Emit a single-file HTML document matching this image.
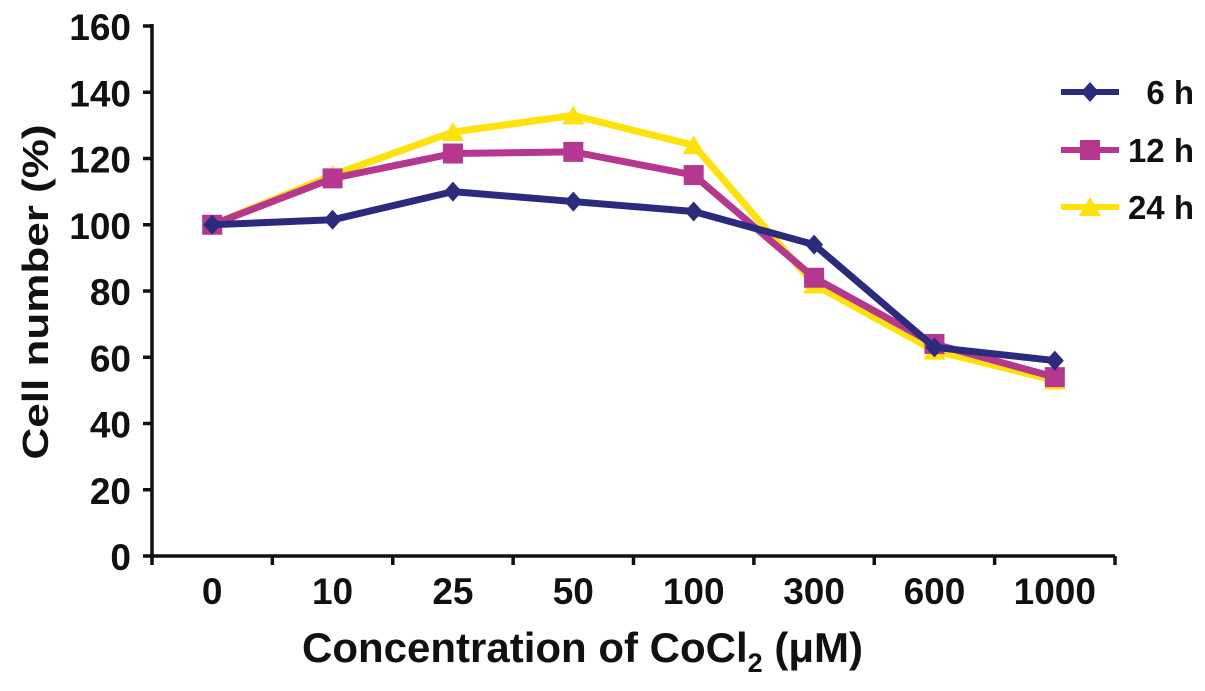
<!DOCTYPE html>
<html><head><meta charset="utf-8"><style>
body{margin:0;background:#fff;}
svg{display:block;font-family:"Liberation Sans",Arial,sans-serif;font-weight:bold;}
</style></head><body>
<svg id="chart" width="1205" height="691" viewBox="0 0 1205 691"></svg>
<script>
const categories=["0","10","25","50","100","300","600","1000"];
const s6h=[100,101.5,110,107,104,94,63,59];
const s12h=[100,114,121.5,122,115,84,64,54];
const s24h=[100,115,128,133,124,82,62,53];
const yTicks=[0,20,40,60,80,100,120,140,160];
const seriesNames=["6 h","12 h","24 h"];

const NS="http://www.w3.org/2000/svg";
const svg=document.getElementById('chart');
const X0=152,X1=1115,Y0=556,Y1=26,YMAX=160;
const step=(X1-X0)/categories.length;
const xp=i=>X0+step*(i+0.5);
const yp=v=>Y0-(v/YMAX)*(Y0-Y1);
function mk(t,a){const e=document.createElementNS(NS,t);for(const k in a)e.setAttribute(k,a[k]);svg.appendChild(e);return e;}

let e=mk('line',{x1:X0,y1:Y1-2,x2:X0,y2:Y0+2,stroke:'#111','stroke-width':3.5});


e=mk('line',{x1:X0-2,y1:Y0,x2:X1,y2:Y0,stroke:'#111','stroke-width':3.5});


yTicks.forEach(v=>{
  const t=mk('line',{x1:X0-9,y1:yp(v),x2:X0,y2:yp(v),stroke:'#111','stroke-width':3.5});
  
  
  const l=mk('text',{x:X0-21,y:yp(v)+14,'text-anchor':'end','font-size':37,fill:'#111'});
  l.textContent=v;
  
  
});
for(let i=0;i<=categories.length;i++){
  const t=mk('line',{x1:X0+step*i,y1:Y0,x2:X0+step*i,y2:Y0+9,stroke:'#111','stroke-width':3.5});
  
  
}
categories.forEach((c,i)=>{
  const l=mk('text',{x:xp(i),y:604,'text-anchor':'middle','font-size':37,fill:'#111'});
  l.textContent=c;
  
  
});
let t=mk('text',{x:0,y:0,transform:'translate(48,292) rotate(-90)','text-anchor':'middle','font-size':36,fill:'#111',textLength:335,lengthAdjust:'spacingAndGlyphs'});
t.textContent='Cell number (%)';


t=mk('text',{x:302,y:662,'font-size':42,fill:'#111'});
t.innerHTML='Concentration of CoCl<tspan font-size="27" dy="10">2</tspan><tspan dy="-10"> (μM)</tspan>';



const colors=['#2b2b7e','#b5378f','#ffe20a'];
const data=[s6h,s12h,s24h];
function marker(k,x,y,g){
  let m;
  if(k===0) m=document.createElementNS(NS,'polygon'),m.setAttribute('points',`${x},${y-10} ${x+9},${y} ${x},${y+10} ${x-9},${y}`);
  else if(k===1) m=document.createElementNS(NS,'rect'),m.setAttribute('x',x-10),m.setAttribute('y',y-10),m.setAttribute('width',20),m.setAttribute('height',20);
  else m=document.createElementNS(NS,'polygon'),m.setAttribute('points',`${x},${y-10} ${x+11},${y+9} ${x-11},${y+9}`);
  m.setAttribute('fill',colors[k]);
  g.appendChild(m);return m;
}
[2,1,0].forEach(k=>{
  const g=mk('g',{});
  
  
  const p=document.createElementNS(NS,'polyline');
  p.setAttribute('points',data[k].map((v,i)=>xp(i)+','+yp(v)).join(' '));
  p.setAttribute('fill','none');p.setAttribute('stroke',colors[k]);p.setAttribute('stroke-width',7);p.setAttribute('stroke-linejoin','round');
  
  
  g.appendChild(p);
  data[k].forEach((v,i)=>{
    const m=marker(k,xp(i),yp(v),g);
    
    
  });
});
const ly=[92,150,207];
seriesNames.forEach((n,k)=>{
  const g=mk('g',{});
  
  
  const l=document.createElementNS(NS,'line');
  l.setAttribute('x1',1061);l.setAttribute('x2',1119);l.setAttribute('y1',ly[k]);l.setAttribute('y2',ly[k]);
  l.setAttribute('stroke',colors[k]);l.setAttribute('stroke-width',6);
  g.appendChild(l);
  marker(k,1090,ly[k],g);
  const tx=document.createElementNS(NS,'text');
  tx.setAttribute('x',1194);tx.setAttribute('y',ly[k]+12);tx.setAttribute('text-anchor','end');tx.setAttribute('font-size',33);tx.setAttribute('fill','#111');
  tx.textContent=n;
  g.appendChild(tx);
});
</script>
</body></html>
